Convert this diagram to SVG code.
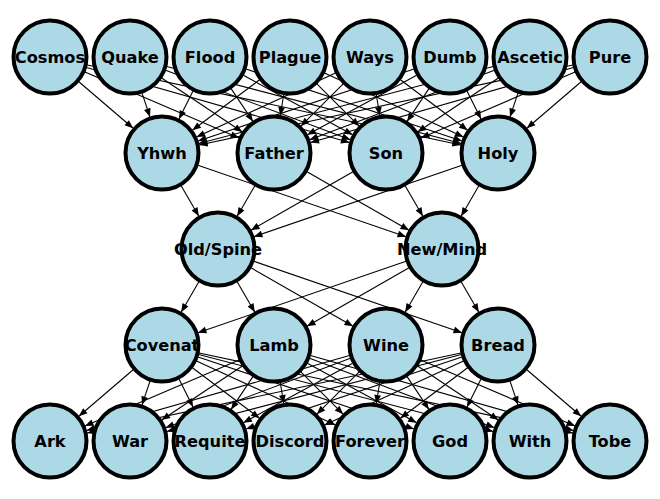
<svg xmlns="http://www.w3.org/2000/svg" width="660" height="499" viewBox="0 0 660 499">
<style>
.e{stroke:#000;stroke-width:1.1;fill:none;marker-end:url(#ah)}
.n circle{fill:#ADD8E6;stroke:#000;stroke-width:4}
.n text{font-family:"DejaVu Sans",sans-serif;font-weight:bold;font-size:16.2px;text-anchor:middle;dominant-baseline:central;fill:#000}
</style>
<defs>
<marker id="ah" markerUnits="userSpaceOnUse" markerWidth="12" markerHeight="12" refX="0" refY="0" orient="auto" overflow="visible" viewBox="-10 -5 12 10">
<path d="M0,0 L-8.5,-3.4 L-8.5,3.4 Z" fill="#000"/>
</marker>
</defs>
<rect width="660" height="499" fill="#fff"/>
<g id="connectors">
<line class="e" x1="78.85" y1="81.73" x2="133.15" y2="128.27"/>
<line class="e" x1="84.93" y1="71.97" x2="239.07" y2="138.03"/>
<line class="e" x1="86.54" y1="67.44" x2="349.46" y2="142.56"/>
<line class="e" x1="87.16" y1="64.96" x2="460.84" y2="145.04"/>
<line class="e" x1="142.02" y1="93.05" x2="149.98" y2="116.95"/>
<line class="e" x1="161.62" y1="78.08" x2="242.38" y2="131.92"/>
<line class="e" x1="165.58" y1="70.34" x2="350.42" y2="139.66"/>
<line class="e" x1="166.77" y1="66.59" x2="461.23" y2="143.41"/>
<line class="e" x1="193.01" y1="90.99" x2="178.99" y2="119.01"/>
<line class="e" x1="231.08" y1="88.62" x2="252.92" y2="121.38"/>
<line class="e" x1="243.36" y1="75.2" x2="352.64" y2="134.8"/>
<line class="e" x1="246.05" y1="69.02" x2="461.95" y2="140.98"/>
<line class="e" x1="259.6" y1="79.8" x2="192.4" y2="130.2"/>
<line class="e" x1="283.75" y1="94.48" x2="280.25" y2="115.52"/>
<line class="e" x1="316.87" y1="83.87" x2="359.13" y2="126.13"/>
<line class="e" x1="324.5" y1="72.93" x2="463.5" y2="137.07"/>
<line class="e" x1="335.5" y1="72.93" x2="196.5" y2="137.07"/>
<line class="e" x1="343.13" y1="83.87" x2="300.87" y2="126.13"/>
<line class="e" x1="376.25" y1="94.48" x2="379.75" y2="115.52"/>
<line class="e" x1="400.4" y1="79.8" x2="467.6" y2="130.2"/>
<line class="e" x1="413.95" y1="69.02" x2="198.05" y2="140.98"/>
<line class="e" x1="416.64" y1="75.2" x2="307.36" y2="134.8"/>
<line class="e" x1="428.92" y1="88.62" x2="407.08" y2="121.38"/>
<line class="e" x1="466.99" y1="90.99" x2="481.01" y2="119.01"/>
<line class="e" x1="493.23" y1="66.59" x2="198.77" y2="143.41"/>
<line class="e" x1="494.42" y1="70.34" x2="309.58" y2="139.66"/>
<line class="e" x1="498.38" y1="78.08" x2="417.62" y2="131.92"/>
<line class="e" x1="517.98" y1="93.05" x2="510.02" y2="116.95"/>
<line class="e" x1="572.84" y1="64.96" x2="199.16" y2="145.04"/>
<line class="e" x1="573.46" y1="67.44" x2="310.54" y2="142.56"/>
<line class="e" x1="575.07" y1="71.97" x2="420.93" y2="138.03"/>
<line class="e" x1="581.15" y1="81.73" x2="526.85" y2="128.27"/>
<line class="e" x1="181.15" y1="185.82" x2="198.85" y2="216.18"/>
<line class="e" x1="197.94" y1="165.32" x2="406.06" y2="236.68"/>
<line class="e" x1="254.85" y1="185.82" x2="237.15" y2="216.18"/>
<line class="e" x1="306.99" y1="171.85" x2="409.01" y2="230.15"/>
<line class="e" x1="353.01" y1="171.85" x2="250.99" y2="230.15"/>
<line class="e" x1="405.15" y1="185.82" x2="422.85" y2="216.18"/>
<line class="e" x1="462.06" y1="165.32" x2="253.94" y2="236.68"/>
<line class="e" x1="478.85" y1="185.82" x2="461.15" y2="216.18"/>
<line class="e" x1="198.85" y1="281.82" x2="181.15" y2="312.18"/>
<line class="e" x1="237.15" y1="281.82" x2="254.85" y2="312.18"/>
<line class="e" x1="250.99" y1="267.85" x2="353.01" y2="326.15"/>
<line class="e" x1="253.94" y1="261.32" x2="462.06" y2="332.68"/>
<line class="e" x1="406.06" y1="261.32" x2="197.94" y2="332.68"/>
<line class="e" x1="409.01" y1="267.85" x2="306.99" y2="326.15"/>
<line class="e" x1="422.85" y1="281.82" x2="405.15" y2="312.18"/>
<line class="e" x1="461.15" y1="281.82" x2="478.85" y2="312.18"/>
<line class="e" x1="133.15" y1="369.73" x2="78.85" y2="416.27"/>
<line class="e" x1="149.98" y1="381.05" x2="142.02" y2="404.95"/>
<line class="e" x1="178.99" y1="378.99" x2="193.01" y2="407.01"/>
<line class="e" x1="192.4" y1="367.8" x2="259.6" y2="418.2"/>
<line class="e" x1="196.5" y1="360.93" x2="335.5" y2="425.07"/>
<line class="e" x1="198.05" y1="357.02" x2="413.95" y2="428.98"/>
<line class="e" x1="198.77" y1="354.59" x2="493.23" y2="431.41"/>
<line class="e" x1="199.16" y1="352.96" x2="572.84" y2="433.04"/>
<line class="e" x1="239.07" y1="359.97" x2="84.93" y2="426.03"/>
<line class="e" x1="242.38" y1="366.08" x2="161.62" y2="419.92"/>
<line class="e" x1="252.92" y1="376.62" x2="231.08" y2="409.38"/>
<line class="e" x1="280.25" y1="382.48" x2="283.75" y2="403.52"/>
<line class="e" x1="300.87" y1="371.87" x2="343.13" y2="414.13"/>
<line class="e" x1="307.36" y1="363.2" x2="416.64" y2="422.8"/>
<line class="e" x1="309.58" y1="358.34" x2="494.42" y2="427.66"/>
<line class="e" x1="310.54" y1="355.44" x2="573.46" y2="430.56"/>
<line class="e" x1="349.46" y1="355.44" x2="86.54" y2="430.56"/>
<line class="e" x1="350.42" y1="358.34" x2="165.58" y2="427.66"/>
<line class="e" x1="352.64" y1="363.2" x2="243.36" y2="422.8"/>
<line class="e" x1="359.13" y1="371.87" x2="316.87" y2="414.13"/>
<line class="e" x1="379.75" y1="382.48" x2="376.25" y2="403.52"/>
<line class="e" x1="407.08" y1="376.62" x2="428.92" y2="409.38"/>
<line class="e" x1="417.62" y1="366.08" x2="498.38" y2="419.92"/>
<line class="e" x1="420.93" y1="359.97" x2="575.07" y2="426.03"/>
<line class="e" x1="460.84" y1="352.96" x2="87.16" y2="433.04"/>
<line class="e" x1="461.23" y1="354.59" x2="166.77" y2="431.41"/>
<line class="e" x1="461.95" y1="357.02" x2="246.05" y2="428.98"/>
<line class="e" x1="463.5" y1="360.93" x2="324.5" y2="425.07"/>
<line class="e" x1="467.6" y1="367.8" x2="400.4" y2="418.2"/>
<line class="e" x1="481.01" y1="378.99" x2="466.99" y2="407.01"/>
<line class="e" x1="510.02" y1="381.05" x2="517.98" y2="404.95"/>
<line class="e" x1="526.85" y1="369.73" x2="581.15" y2="416.27"/>
</g>
<g id="cosmos" class="n"><circle cx="50" cy="57" r="36.5"/><text x="50" y="57">Cosmos</text></g>
<g id="quake" class="n"><circle cx="130" cy="57" r="36.5"/><text x="130" y="57">Quake</text></g>
<g id="flood" class="n"><circle cx="210" cy="57" r="36.5"/><text x="210" y="57">Flood</text></g>
<g id="plague" class="n"><circle cx="290" cy="57" r="36.5"/><text x="290" y="57">Plague</text></g>
<g id="ways" class="n"><circle cx="370" cy="57" r="36.5"/><text x="370" y="57">Ways</text></g>
<g id="dumb" class="n"><circle cx="450" cy="57" r="36.5"/><text x="450" y="57">Dumb</text></g>
<g id="ascetic" class="n"><circle cx="530" cy="57" r="36.5"/><text x="530" y="57">Ascetic</text></g>
<g id="pure" class="n"><circle cx="610" cy="57" r="36.5"/><text x="610" y="57">Pure</text></g>
<g id="yhwh" class="n"><circle cx="162" cy="153" r="36.5"/><text x="162" y="153">Yhwh</text></g>
<g id="father" class="n"><circle cx="274" cy="153" r="36.5"/><text x="274" y="153">Father</text></g>
<g id="son" class="n"><circle cx="386" cy="153" r="36.5"/><text x="386" y="153">Son</text></g>
<g id="holy" class="n"><circle cx="498" cy="153" r="36.5"/><text x="498" y="153">Holy</text></g>
<g id="oldspine" class="n"><circle cx="218" cy="249" r="36.5"/><text x="218" y="249">Old/Spine</text></g>
<g id="newmind" class="n"><circle cx="442" cy="249" r="36.5"/><text x="442" y="249">New/Mind</text></g>
<g id="covenat" class="n"><circle cx="162" cy="345" r="36.5"/><text x="162" y="345">Covenat</text></g>
<g id="lamb" class="n"><circle cx="274" cy="345" r="36.5"/><text x="274" y="345">Lamb</text></g>
<g id="wine" class="n"><circle cx="386" cy="345" r="36.5"/><text x="386" y="345">Wine</text></g>
<g id="bread" class="n"><circle cx="498" cy="345" r="36.5"/><text x="498" y="345">Bread</text></g>
<g id="ark" class="n"><circle cx="50" cy="441" r="36.5"/><text x="50" y="441">Ark</text></g>
<g id="war" class="n"><circle cx="130" cy="441" r="36.5"/><text x="130" y="441">War</text></g>
<g id="requite" class="n"><circle cx="210" cy="441" r="36.5"/><text x="210" y="441">Requite</text></g>
<g id="discord" class="n"><circle cx="290" cy="441" r="36.5"/><text x="290" y="441">Discord</text></g>
<g id="forever" class="n"><circle cx="370" cy="441" r="36.5"/><text x="370" y="441">Forever</text></g>
<g id="god" class="n"><circle cx="450" cy="441" r="36.5"/><text x="450" y="441">God</text></g>
<g id="with" class="n"><circle cx="530" cy="441" r="36.5"/><text x="530" y="441">With</text></g>
<g id="tobe" class="n"><circle cx="610" cy="441" r="36.5"/><text x="610" y="441">Tobe</text></g>
</svg>
